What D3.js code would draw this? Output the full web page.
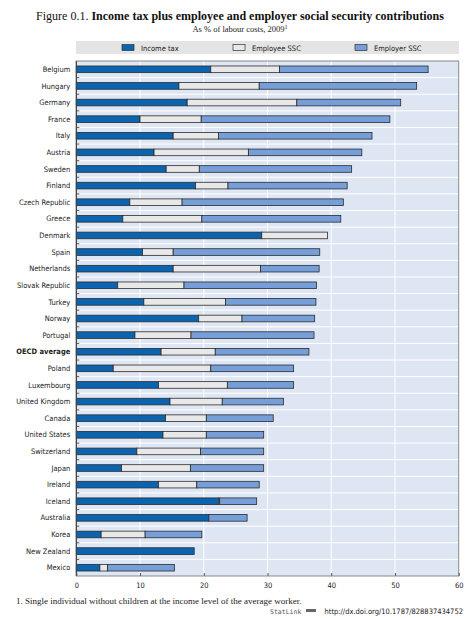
<!DOCTYPE html>
<html>
<head>
<meta charset="utf-8">
<script src="https://cdn.jsdelivr.net/npm/d3@7"></script>
<style>
  body { margin: 0; background: #fff; }
  svg { display: block; }
  .serif { font-family: "Liberation Serif", "DejaVu Serif", serif; }
  .narrow { font-family: "DejaVu Sans Condensed", "DejaVu Sans", sans-serif; font-stretch: condensed; font-weight: normal; }
</style>
</head>
<body>
<div id="chart"></div>
<script>
// data (% of labour costs, 2009)
var countries = ["Belgium", "Hungary", "Germany", "France", "Italy", "Austria", "Sweden", "Finland",
  "Czech Republic", "Greece", "Denmark", "Spain", "Netherlands", "Slovak Republic", "Turkey", "Norway",
  "Portugal", "OECD average", "Poland", "Luxembourg", "United Kingdom", "Canada", "United States",
  "Switzerland", "Japan", "Ireland", "Iceland", "Australia", "Korea", "New Zealand", "Mexico"];
var incomeTax = [21.1, 16.1, 17.4, 10.0, 15.2, 12.2, 14.1, 18.7, 8.4, 7.3, 29.1, 10.4, 15.2, 6.5, 10.6, 19.2,
  9.2, 13.3, 5.8, 12.9, 14.7, 14.0, 13.6, 9.5, 7.1, 12.9, 22.3, 20.8, 3.9, 18.5, 3.7];
var employeeSSC = [10.8, 12.6, 17.2, 9.6, 7.1, 14.8, 5.2, 5.1, 8.2, 12.4, 10.3, 4.8, 13.7, 10.4, 12.8, 6.8,
  8.8, 8.5, 15.3, 10.8, 8.2, 6.4, 6.8, 10.0, 10.8, 6.0, 0.2, 0.0, 6.9, 0.0, 1.2];
var employerSSC = [23.3, 24.7, 16.3, 29.6, 24.1, 17.8, 23.9, 18.7, 25.3, 21.8, 0.0, 23.0, 9.2, 20.8, 14.2, 11.4,
  19.3, 14.7, 13.0, 10.4, 9.6, 10.5, 9.0, 9.9, 11.5, 9.8, 5.8, 6.0, 8.9, 0.0, 10.5];
var seriesNames = ["Income tax", "Employee SSC", "Employer SSC"];
var seriesColors = ["#0a64b0", "#e8e8e8", "#769fd9"];
var xTicks = [0, 10, 20, 30, 40, 50, 60];

var W = 467, H = 618;
var margin = {left: 76.3, right: 8.3, top: 61, bottom: 42};
var pw = W - margin.left - margin.right, ph = H - margin.top - margin.bottom;

var svg = d3.select("#chart").append("svg").attr("width", W).attr("height", H);

// title
var title = svg.append("text").attr("class", "serif").attr("x", 240).attr("y", 20)
  .attr("text-anchor", "middle").style("font-size", "12px").attr("fill", "#111");
title.append("tspan").text("Figure 0.1.  ");
title.append("tspan").attr("font-weight", "bold").text("Income tax plus employee and employer social security contributions");
var sub = svg.append("text").attr("class", "serif").attr("x", 240).attr("y", 32)
  .attr("text-anchor", "middle").style("font-size", "8.5px").attr("fill", "#222");
sub.append("tspan").text("As % of labour costs, 2009");
sub.append("tspan").attr("dy", -3).style("font-size", "6px").text("1");

// legend
var lg = svg.append("g").attr("transform", "translate(76,41)");
lg.append("rect").attr("width", 383).attr("height", 13).attr("fill", "#e4e4e4");
var lx = [46, 157, 279];
seriesNames.forEach(function(s, i) {
  lg.append("rect").attr("x", lx[i]).attr("y", 3.5).attr("width", 12).attr("height", 6)
    .attr("fill", seriesColors[i]).attr("stroke", "#333").attr("stroke-width", 0.7);
  lg.append("text").attr("class", "narrow").attr("x", lx[i] + 19).attr("y", 9.5)
    .style("font-size", "7.5px").attr("fill", "#222").text(s);
});

var x = d3.scaleLinear().domain([0, 60]).range([0, pw]);
var y = d3.scaleBand().domain(countries).range([0, ph]).paddingInner(0.6).paddingOuter(0.3);
var step = y.step();

var g = svg.append("g").attr("transform", "translate(" + margin.left + "," + margin.top + ")");
g.append("rect").attr("width", pw).attr("height", ph).attr("fill", "#dfe6f3");

// gridlines
g.selectAll(".vg").data(xTicks.slice(1, -1)).join("line")
  .attr("x1", d => x(d)).attr("x2", d => x(d)).attr("y1", 0).attr("y2", ph)
  .attr("stroke", "#fff").attr("stroke-width", 1);
g.selectAll(".hg").data(countries.slice(0, -1)).join("line")
  .attr("x1", 0).attr("x2", pw)
  .attr("y1", d => y(d) + y.bandwidth() / 2 + step / 2)
  .attr("y2", d => y(d) + y.bandwidth() / 2 + step / 2)
  .attr("stroke", "#fff").attr("stroke-width", 1);
// inner ticks on left
g.selectAll(".tk").data(countries.slice(0, -1)).join("line")
  .attr("x1", 0).attr("x2", 3)
  .attr("y1", d => y(d) + y.bandwidth() / 2 + step / 2)
  .attr("y2", d => y(d) + y.bandwidth() / 2 + step / 2)
  .attr("stroke", "#333").attr("stroke-width", 0.8);

// stacked bars
var rows = countries.map(function(c, i) {
  return {country: c, values: [incomeTax[i], employeeSSC[i], employerSSC[i]]};
});
var stack = d3.stack().keys([0, 1, 2]).value((d, k) => d.values[k]);
var layers = stack(rows);
g.selectAll(".layer").data(layers).join("g")
  .attr("fill", (d, i) => seriesColors[i])
  .selectAll("rect").data(d => d.filter(p => p[1] - p[0] > 0)).join("rect")
  .attr("x", d => x(d[0])).attr("width", d => x(d[1]) - x(d[0]))
  .attr("y", d => y(d.data.country)).attr("height", y.bandwidth())
  .attr("stroke", "#2b2b2b").attr("stroke-width", 0.8);

// frame
g.append("rect").attr("width", pw).attr("height", ph).attr("fill", "none")
  .attr("stroke", "#8a8a8a").attr("stroke-width", 1);
g.append("line").attr("x1", 0).attr("x2", 0).attr("y1", 0).attr("y2", ph).attr("stroke", "#333");

// y labels
g.selectAll(".yl").data(countries).join("text").attr("class", "narrow")
  .attr("x", -6).attr("y", d => y(d) + y.bandwidth() / 2).attr("dy", "0.35em")
  .attr("text-anchor", "end").style("font-size", "7.5px").attr("fill", "#222")
  .style("font-weight", d => d === "OECD average" ? "bold" : "normal")
  .text(d => d);

// x axis
var xa = g.append("g").attr("transform", "translate(0," + ph + ")")
  .call(d3.axisBottom(x).tickValues(xTicks).tickSize(-3).tickPadding(7));
xa.select(".domain").remove();
xa.selectAll("line").attr("stroke", "#555");
xa.selectAll("text").attr("class", "narrow").style("font-size", "7.5px").attr("fill", "#222");

// footnote
svg.append("text").attr("class", "serif").attr("x", 16).attr("y", 604)
  .style("font-size", "9px").attr("fill", "#222")
  .text("1.  Single individual without children at the income level of the average worker.");
svg.append("text").attr("x", 270).attr("y", 614)
  .style("font-family", "'DejaVu Sans Mono', monospace").style("font-size", "6.5px").attr("fill", "#555")
  .text("StatLink");
svg.append("rect").attr("x", 306).attr("y", 609).attr("width", 10).attr("height", 3).attr("fill", "#666");
svg.append("text").attr("class", "narrow").attr("x", 463).attr("y", 614)
  .attr("text-anchor", "end").style("font-size", "7.5px").attr("fill", "#222")
  .text("http://dx.doi.org/10.1787/828837434752");
</script>
</body>
</html>
